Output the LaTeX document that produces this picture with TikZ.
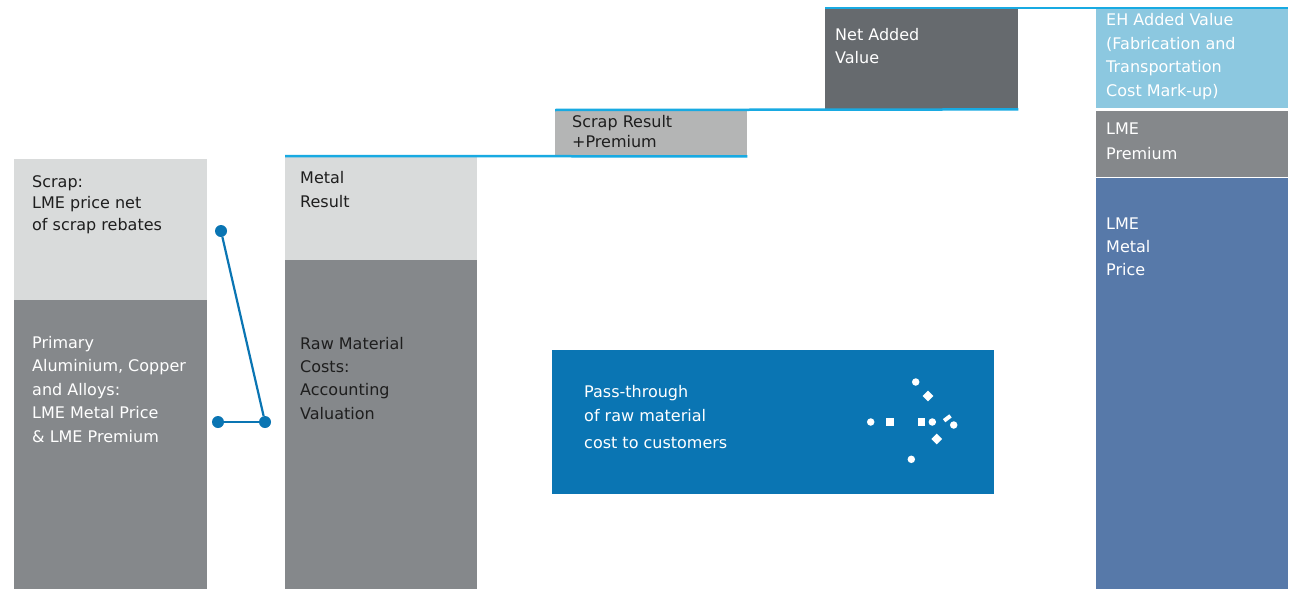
\documentclass[tikz,border=0pt]{standalone}
\usepackage{fontspec}
\setmainfont{DejaVu Sans}
\usetikzlibrary{positioning}

\definecolor{paleGrey}{HTML}{D9DBDB}
\definecolor{midGrey}{HTML}{85888B}
\definecolor{scrapGrey}{HTML}{B4B5B5}
\definecolor{slateGrey}{HTML}{666A6E}
\definecolor{skyBlue}{HTML}{8CC8E0}
\definecolor{steelBlue}{HTML}{5779A9}
\definecolor{deepBlue}{HTML}{0A75B3}
\definecolor{edgeCyan}{HTML}{18AAE2}
\definecolor{inkDark}{HTML}{1E1E1E}

\begin{document}
\begin{tikzpicture}[
  x=1pt,y=-1pt,
  bar/.style={rectangle,anchor=north west,inner sep=0pt,draw=none},
  % labels are placed at the baseline of their last line
  lbl/.style={anchor=base west,align=left,inner sep=0pt,font=\fontsize{16}{23.5}\selectfont},
  ondark/.style={text=white},
  onlight/.style={text=inkDark},
  stair/.style={draw=edgeCyan,line width=2.5pt},
  joint/.style={circle,fill=deepBlue,inner sep=0pt,minimum size=12pt},
  link/.style={draw=deepBlue,line width=2.2pt},
  spot/.style={circle,fill=white,inner sep=0pt,minimum size=7.5pt},
  tile/.style={rectangle,fill=white,inner sep=0pt,minimum size=8pt}
]
\fill[white] (0,0) rectangle (1295,589);
\path[use as bounding box] (0,0) rectangle (1295,589);

% first column
\node[bar,fill=paleGrey,minimum width=193pt,minimum height=141pt] (scrap) at (14,159) {};
\node[bar,fill=midGrey,minimum width=193pt,minimum height=289pt] (primary) at (14,300) {};
\node[lbl,onlight,font=\fontsize{16}{21.7}\selectfont] (scraptxt) at (32,230.4) {Scrap:\\LME price net\\of scrap rebates};
\node[lbl,ondark] (primarytxt) at (32,442) {Primary\\Aluminium, Copper\\and Alloys:\\LME Metal Price\\\& LME Premium};

% second column
\node[bar,fill=paleGrey,minimum width=192pt,minimum height=104pt] (metal) at (285,156) {};
\node[bar,fill=midGrey,minimum width=192pt,minimum height=329pt] (rawmat) at (285,260) {};
\node[lbl,onlight,font=\fontsize{16}{24}\selectfont] (metaltxt) at (300,207) {Metal\\Result};
\node[lbl,onlight,font=\fontsize{16}{23.3}\selectfont] (rawmattxt) at (300,419) {Raw Material\\Costs:\\Accounting\\Valuation};

% steps
\node[bar,fill=scrapGrey,minimum width=192pt,minimum height=46pt] (scrapres) at (555,110) {};
\node[lbl,onlight,font=\fontsize{16}{19.5}\selectfont] (scraprestxt) at (572,147) {Scrap Result\\+Premium};
\node[bar,fill=slateGrey,minimum width=193pt,minimum height=101pt] (netadd) at (825,8) {};
\node[lbl,ondark,font=\fontsize{16}{23}\selectfont] (netaddtxt) at (835,63.5) {Net Added\\Value};

% last column
\node[bar,fill=skyBlue,minimum width=192pt,minimum height=100pt] (ehval) at (1096,8) {};
\node[bar,fill=midGrey,minimum width=192pt,minimum height=66pt] (lmeprem) at (1096,111) {};
\node[bar,fill=steelBlue,minimum width=192pt,minimum height=411pt] (lmemetal) at (1096,178) {};
\node[lbl,ondark,font=\fontsize{16}{23.7}\selectfont] (ehvaltxt) at (1106,96.6) {EH Added Value\\(Fabrication and\\Transportation\\Cost Mark-up)};
\node[lbl,ondark,font=\fontsize{16}{25}\selectfont] (lmepremtxt) at (1106,159) {LME\\Premium};
\node[lbl,ondark,font=\fontsize{16}{23}\selectfont] (lmemetaltxt) at (1106,275.5) {LME\\Metal\\Price};

\draw[stair] (metal.north west) -- (scrapres.south east);
\draw[stair] (scrapres.north west) -- (netadd.south east);
\draw[stair] (netadd.north west) -- (ehval.north east);

% link between the first two columns
\node[joint] (jscrap) at (221,231) {};
\node[joint] (jprim) at (218,422) {};
\node[joint] (jraw) at (265,422) {};
\draw[link] (jscrap) -- (jraw);
\draw[link] (jprim) -- (jraw);

% pass-through box
\node[bar,fill=deepBlue,minimum width=442pt,minimum height=144pt] (pass) at (552,350) {};
\node[lbl,ondark,font=\fontsize{16}{24}\selectfont] (passtxt) at (584,448.6) {Pass-through\\of raw material\\[3.6pt]cost to customers};

\node[spot] (p1) at (915.7,382) {};
\node[spot] (p2) at (870.7,422) {};
\node[spot] (p3) at (932.3,422) {};
\node[spot] (p4) at (953.7,425) {};
\node[spot] (p5) at (911.3,459.3) {};
\node[tile] (q1) at (890,422) {};
\node[tile,minimum width=7pt] (q2) at (921.3,422) {};
\node[tile,minimum size=7.5pt,rotate=45] (r1) at (928,396) {};
\node[tile,minimum size=7.5pt,rotate=45] (r2) at (936.7,439) {};
\node[tile,minimum width=8pt,minimum height=4pt,rotate=37] (r3) at (947.3,418.3) {};
\end{tikzpicture}
\end{document}
